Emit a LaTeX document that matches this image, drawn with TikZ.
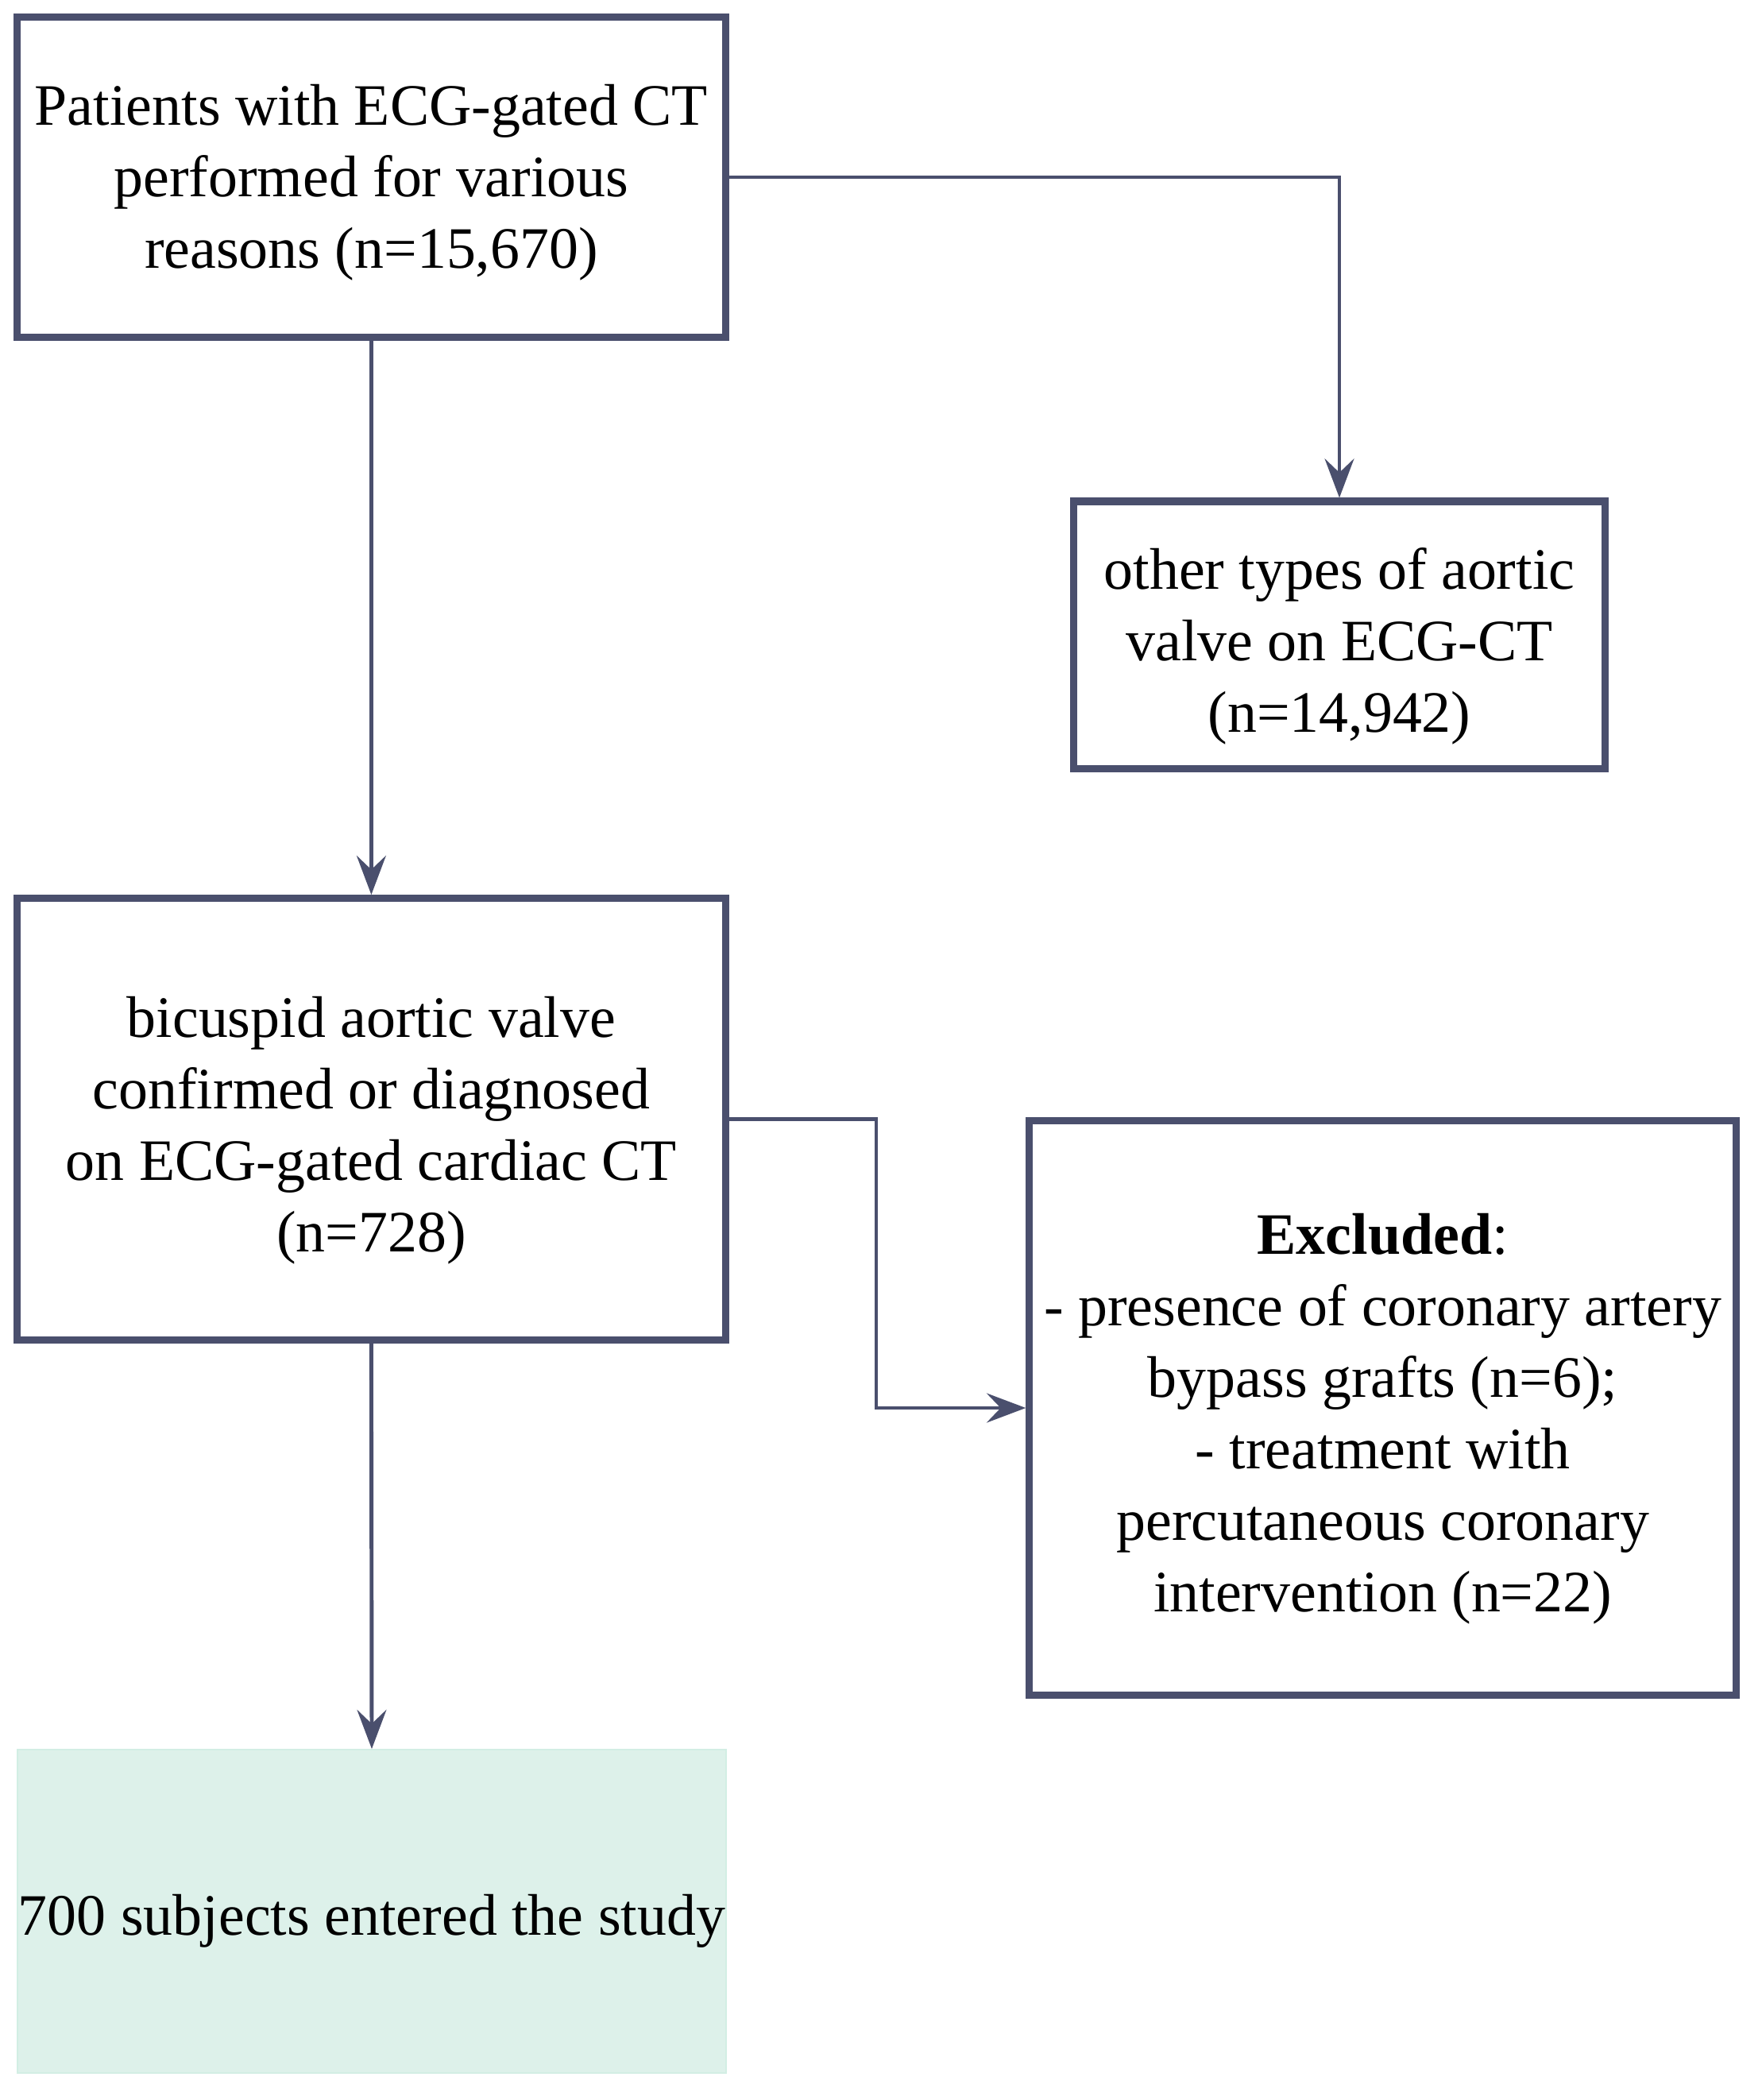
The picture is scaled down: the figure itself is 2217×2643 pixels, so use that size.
\documentclass[tikz,border=0pt]{standalone}
\usepackage{fontspec}
\setmainfont{Liberation Serif}
\usetikzlibrary{arrows.meta}
\definecolor{edge}{HTML}{4A4F6D}
\definecolor{mint}{HTML}{DDF1EA}
\definecolor{mintedge}{HTML}{D2EEE4}
\begin{document}
\begin{tikzpicture}[x=0.01cm,y=0.01cm,
  box/.style={draw=edge,line width=2.6pt,rectangle,inner sep=0pt},
  finalbox/.style={draw=mintedge,fill=mint,line width=0.5pt,rectangle,inner sep=0pt},
  txt/.style={inner sep=0pt,align=center,font=\fontsize{21}{25.6}\selectfont},
  conn/.style={draw=edge,line width=1.4pt,-{Stealth[length=14pt,width=10.5pt,inset=5pt]}}]
\useasboundingbox (0,0) rectangle (2217,-2643);
\node[box,minimum width=8.91cm,minimum height=4.02cm] (b1) at (467.4,-223) {};
\node[box,minimum width=6.68cm,minimum height=3.365cm] (oth) at (1686,-799.4) {};
\node[box,minimum width=8.91cm,minimum height=5.555cm] (b2) at (467.4,-1408.6) {};
\node[box,minimum width=8.89cm,minimum height=7.23cm] (b3) at (1740.6,-1772) {};
\node[finalbox,minimum width=8.92cm,minimum height=4.07cm] (b4) at (468,-2405.6) {};
\node[txt] (b1t) at ([yshift=-2pt]b1.center)
  {Patients with ECG-gated CT\\performed for various\\reasons (n=15,670)};
\node[txt] (otht) at ([yshift=-4pt]oth.center)
  {other types of aortic\\valve on ECG-CT\\(n=14,942)};
\node[txt] (b2t) at ([yshift=-4pt]b2.center)
  {bicuspid aortic valve\\confirmed or diagnosed\\on ECG-gated cardiac CT\\(n=728)};
\node[txt] (b3t) at ([yshift=-4pt]b3.center)
  {\textbf{Excluded}:\\- presence of coronary artery\\bypass grafts (n=6);\\- treatment with\\percutaneous coronary\\intervention (n=22)};
\node[txt] (b4t) at ([yshift=-3.5pt]b4.center)
  {700 subjects entered the study};
\coordinate (elb) at (1103,-1408.6);
\draw[conn] (b1.south) -- (b2.north);
\draw[conn] (b1.east) -| (oth.north);
\draw[conn] (b2.east) -- (elb) |- (b3.west);
\draw[conn] (b2.south) -- (b4.north);
\end{tikzpicture}
\end{document}
